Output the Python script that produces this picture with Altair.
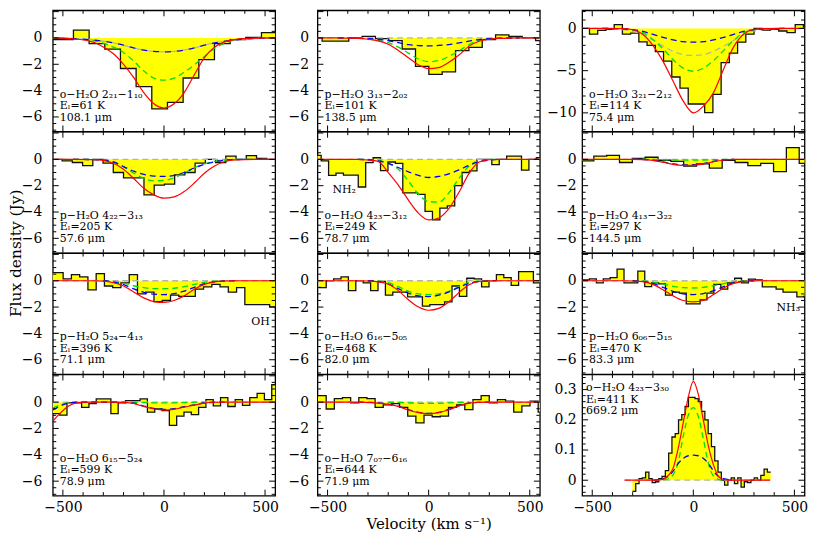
import altair as alt
import numpy as np
import pandas as pd

FONT = "DejaVu Serif"
W = 223.5
H = 121.75

# velocity grids (km/s) on which the model curves were read
CV = [-550, -450, -350, -300, -250, -200, -150, -100, -50, 0, 50, 100, 150, 200, 250, 300, 350, 450, 550]
CV10 = [-550, -520, -490, -460, -430, -400, -350, -300, -250, -200, -150, -100, -50, 0, 50, 100, 150, 200, 250, 300, 350, 450, 550]
CV12 = [-340, -200, -150, -125, -100, -75, -50, -25, 0, 25, 50, 75, 100, 125, 150, 200, 380]
Z19 = [0] * 19

# ---------------- panel 1 : o-H2O 2_21-1_10 ----------------
P1_CH = (-564, 77.5)   # first channel centre, channel width (km/s)
P1_OBS = [-0.12, -0.12, 0.6, -0.43, -0.85, -2.32, -3.7, -5.39, -4.9, -3.04, -1.64, -0.43, -0.12, 0.05, 0.41]
P1_RED = [0, -0.07, -0.32, -0.68, -1.2, -2.0, -3.0, -4.15, -5.0, -5.32, -5.0, -4.15, -2.8, -1.5, -0.7, -0.3, -0.12, -0.02, 0]
P1_GREEN = [0, -0.05, -0.2, -0.4, -0.7, -1.1, -1.75, -2.5, -3.05, -3.21, -3.05, -2.6, -2.05, -1.4, -0.8, -0.4, -0.15, -0.03, 0]
P1_BLUE = [0, -0.05, -0.15, -0.25, -0.38, -0.55, -0.75, -0.92, -1.02, -1.05, -1.02, -0.92, -0.75, -0.55, -0.38, -0.25, -0.15, -0.05, 0]
P1_GREY = [0, -0.05, -0.15, -0.25, -0.38, -0.55, -0.75, -0.92, -1.02, -1.05, -1.02, -0.92, -0.75, -0.55, -0.38, -0.25, -0.15, -0.05, 0]
P1_TXT = ["o\u2212H\u2082O 2\u2082\u2081\u22121\u2081\u2080", "E\u2097=61 K", "108.1 \u03bcm"]

# ---------------- panel 2 : p-H2O 3_13-2_02 ----------------
P2_CH = (-560, 66)
P2_OBS = [0, -0.24, -0.24, 0, 0.12, -0.05, -0.2, -0.84, -2.16, -2.76, -2.57, -0.96, -0.72, -0.12, 0.24, 0.12, 0, -0.2]
P2_RED = [0, 0, -0.03, -0.1, -0.22, -0.48, -0.95, -1.5, -2.05, -2.33, -2.25, -1.85, -1.3, -0.62, -0.25, -0.1, -0.03, 0, 0]
P2_GREEN = [0, 0, -0.02, -0.08, -0.18, -0.36, -0.7, -1.15, -1.6, -1.8, -1.72, -1.4, -0.98, -0.5, -0.18, -0.07, -0.02, 0, 0]
P2_BLUE = [0, 0, -0.02, -0.05, -0.1, -0.2, -0.35, -0.5, -0.58, -0.6, -0.57, -0.5, -0.38, -0.24, -0.12, -0.05, -0.02, 0, 0]
P2_TXT = ["p\u2212H\u2082O 3\u2081\u2083\u22122\u2080\u2082", "E\u2097=101 K", "138.5 \u03bcm"]

# ---------------- panel 3 : o-H2O 3_21-2_12 ----------------
P3_CH = (-534, 40.7)
P3_OBS = [0, -0.68, -0.23, -0.1, 0.45, -0.68, -0.56, -1.6, -2.0, -2.74, -3.87, -5.75, -7.07, -8.95, -8.95, -9.96,
          -7.8, -4.06, -2.93, -1.62, -0.68, 0, -0.2, -0.1, -0.3, -0.5, 0.45, 0]
P3_RED = [0, 0, -0.03, -0.15, -0.68, -2.0, -3.9, -6.25, -8.6, -10.0, -9.2, -7.6, -4.8, -2.15, -0.65, -0.12, -0.02, 0, 0]
P3_GREEN = [0, 0, -0.05, -0.2, -0.5, -1.3, -2.4, -3.7, -4.7, -5.07, -4.7, -3.8, -2.6, -1.4, -0.5, -0.15, -0.03, 0, 0]
P3_BLUE = [0, 0, -0.05, -0.15, -0.35, -0.7, -1.05, -1.35, -1.57, -1.63, -1.57, -1.35, -1.05, -0.7, -0.35, -0.15, -0.05, 0, 0]
P3_GREY = [0, 0, -0.15, -0.35, -0.7, -1.4, -2.1, -2.7, -3.1, -3.2, -3.1, -2.7, -2.1, -1.4, -0.7, -0.3, -0.1, 0, 0]
P3_TXT = ["o\u2212H\u2082O 3\u2082\u2081\u22122\u2081\u2082", "E\u2097=114 K", "75.4 \u03bcm"]

# ---------------- panel 4 : p-H2O 4_22-3_13 ----------------
P4_CH = (-529, 50.6)
P4_OBS = [0, -0.12, -0.24, -0.47, 0, -0.28, -1.0, -1.41, -1.41, -2.7, -1.95, -1.88, -1.18, -1.0, -0.28, 0, -0.24, 0.24, 0, 0.28, 0.07, 0]
P4_RED = [0, 0, -0.02, -0.08, -0.3, -0.75, -1.45, -2.2, -2.7, -2.95, -2.85, -2.45, -1.8, -1.05, -0.5, -0.18, -0.05, 0, 0]
P4_GREEN = [0, 0, -0.02, -0.05, -0.2, -0.55, -1.05, -1.45, -1.63, -1.6, -1.4, -1.05, -0.65, -0.35, -0.15, -0.05, -0.02, 0, 0]
P4_BLUE = [0, 0, -0.02, -0.06, -0.2, -0.55, -0.9, -1.15, -1.27, -1.3, -1.22, -1.0, -0.65, -0.38, -0.18, -0.06, -0.02, 0, 0]
P4_TXT = ["p\u2212H\u2082O 4\u2082\u2082\u22123\u2081\u2083", "E\u2097=205 K", "57.6 \u03bcm"]

# ---------------- panel 5 : o-H2O 4_23-3_12 ----------------
P5_CH = (-550, 36.7)
P5_OBS = [0.3, -0.12, -1.22, -1.05, -1.2, -1.2, -2.1, -0.25, 0.12, -0.85, -0.2, -0.3, -2.55, -2.55, -2.66, -3.95,
          -4.6, -3.7, -3.53, -2.0, -1.0, -0.87, 0, 0, -0.4, 0, 0.24, 0.24, -0.82, 0, 0.12]
P5_RED = [0, 0, 0, -0.05, -0.15, -1.0, -1.95, -3.1, -4.1, -4.6, -4.45, -3.75, -2.5, -1.06, -0.2, -0.03, 0, 0, 0]
P5_GREEN = [0, 0, 0, -0.02, -0.08, -0.3, -0.75, -1.65, -2.65, -3.2, -3.25, -2.55, -1.45, -0.5, -0.1, -0.02, 0, 0, 0]
P5_BLUE = [0, 0, 0, -0.03, -0.12, -0.3, -0.62, -0.95, -1.22, -1.38, -1.3, -1.1, -0.8, -0.45, -0.18, -0.05, 0, 0, 0]
P5_TXT = ["o\u2212H\u2082O 4\u2082\u2083\u22123\u2081\u2082", "E\u2097=249 K", "78.7 \u03bcm"]

# ---------------- panel 6 : p-H2O 4_13-3_22 ----------------
P6_CH = (-524, 63.5)
P6_OBS = [-0.12, 0.24, 0.3, -0.24, 0.07, 0.16, -0.07, -0.16, -0.52, -0.35, -0.66, -0.07, -0.24, -0.47, -0.3, -0.94, 0.89, -0.3]
P6_RED = [0, 0, 0, 0, -0.02, -0.08, -0.22, -0.38, -0.46, -0.45, -0.35, -0.18, -0.05, 0, 0, 0, 0, 0, 0]
P6_GREEN = [0, 0, 0, 0, 0, -0.01, -0.03, -0.05, -0.06, -0.06, -0.05, -0.03, -0.01, 0, 0, 0, 0, 0, 0]
P6_BLUE = [0, 0, 0, 0, -0.02, -0.07, -0.2, -0.35, -0.42, -0.41, -0.32, -0.16, -0.04, 0, 0, 0, 0, 0, 0]
P6_TXT = ["p\u2212H\u2082O 4\u2081\u2083\u22123\u2082\u2082", "E\u2097=297 K", "144.5 \u03bcm"]

# ---------------- panel 7 : p-H2O 5_24-4_13 ----------------
P7_CH = (-560, 40.85)
P7_OBS = [0.61, 0.61, 0.14, 0.47, 0.3, -0.7, 0.54, -0.4, -0.52, -0.16, 0.47, -0.99, -0.87, -1.58, -1.5, -1.1,
          -1.18, -1.18, -0.64, -0.47, -0.28, -0.47, -0.87, -0.52, -1.81, -1.81, -1.81, -1.98]
P7_RED = [0, 0, 0, -0.03, -0.15, -0.4, -0.85, -1.3, -1.58, -1.65, -1.5, -1.15, -0.65, -0.28, -0.08, -0.02, 0, 0, 0]
P7_GREEN = [0, 0, 0, 0, -0.05, -0.18, -0.38, -0.52, -0.6, -0.6, -0.57, -0.45, -0.28, -0.12, -0.04, 0, 0, 0, 0]
P7_BLUE = [0, 0, 0, 0, -0.1, -0.3, -0.62, -0.88, -1.02, -1.05, -0.98, -0.78, -0.5, -0.22, -0.08, -0.02, 0, 0, 0]
P7_TXT = ["p\u2212H\u2082O 5\u2082\u2084\u22124\u2081\u2083", "E\u2097=396 K", "71.1 \u03bcm"]

# ---------------- panel 8 : o-H2O 6_16-5_05 ----------------
P8_CH = (-525, 36.6)
P8_OBS = [-0.52, 0, 0.14, 0.3, -0.75, 0, -0.16, -0.75, -0.05, -1.1, -0.87, -0.87, -1.22, -1.22, -1.93, -1.81,
          -1.81, -1.6, -0.4, -1.18, 0.19, 0.14, -0.47, 0, 0.47, 0.24, -0.35, 0.7, 0.7, -0.16]
P8_RED = [0, 0, 0, -0.02, -0.08, -0.25, -0.75, -1.45, -2.0, -2.24, -2.1, -1.6, -0.9, -0.3, -0.06, 0, 0, 0, 0]
P8_GREEN = [0, 0, 0, 0, -0.03, -0.15, -0.45, -0.8, -1.0, -1.05, -1.0, -0.8, -0.45, -0.15, -0.03, 0, 0, 0, 0]
P8_BLUE = [0, 0, 0, 0, -0.05, -0.25, -0.6, -0.95, -1.15, -1.2, -1.1, -0.85, -0.5, -0.2, -0.05, 0, 0, 0, 0]
P8_TXT = ["o\u2212H\u2082O 6\u2081\u2086\u22125\u2080\u2085", "E\u2097=468 K", "82.0 \u03bcm"]

# ---------------- panel 9 : p-H2O 6_06-5_15 ----------------
P9_CH = (-531, 34.2)
P9_OBS = [0.07, 0.14, -0.16, 0.14, 0.24, 0.89, -0.16, -0.16, 0.73, -0.45, -0.16, -0.24, -1.1, -0.87, -0.94, -1.76,
          -1.76, -1.46, -0.94, -0.28, -0.64, -0.16, 0.19, -0.16, 0.12, 0.07, -0.47, -0.47, -0.64, -0.87, -0.87, -1.22, -1.18]
P9_RED = [0, 0, 0, -0.02, -0.07, -0.28, -0.68, -1.15, -1.5, -1.6, -1.5, -1.05, -0.55, -0.2, -0.05, 0, 0, 0, 0]
P9_GREEN = [0, 0, 0, 0, -0.02, -0.1, -0.25, -0.42, -0.53, -0.55, -0.5, -0.38, -0.22, -0.08, -0.02, 0, 0, 0, 0]
P9_BLUE = [0, 0, 0, 0, -0.05, -0.2, -0.5, -0.8, -1.0, -1.05, -0.97, -0.75, -0.45, -0.15, -0.03, 0, 0, 0, 0]
P9_TXT = ["p\u2212H\u2082O 6\u2080\u2086\u22125\u2081\u2085", "E\u2097=470 K", "83.3 \u03bcm"]

# ---------------- panel 10 : o-H2O 6_15-5_24 ----------------
P10_CH = (-534, 36.17)
P10_OBS = [-0.87, -0.99, -0.05, -0.05, -0.4, -0.12, 0.24, 0.24, -0.87, -0.05, 0.12, 0.12, 0.24, -0.76, -0.52, -0.64,
           -1.77, -1.06, -0.76, -0.95, -0.4, 0.19, -0.28, 0.35, -0.33, 0.19, -0.24, 0.35, 0.66, 0.19, 1.32]
P10_RED = [-1.45, -0.95, -0.5, -0.2, -0.05, 0, 0, 0, 0, -0.02, -0.1, -0.33, -0.52, -0.6, -0.55, -0.38, -0.23, -0.07, -0.01, 0, 0, 0, 0]
P10_GREEN = [-0.45, -0.25, -0.1, -0.02, 0, 0, 0, 0, 0, 0, -0.01, -0.03, -0.05, -0.05, -0.05, -0.03, -0.01, 0, 0, 0, 0, 0, 0]
P10_BLUE = [-0.6, -0.35, -0.15, -0.04, 0, 0, 0, 0, 0, -0.02, -0.08, -0.3, -0.48, -0.55, -0.5, -0.35, -0.2, -0.06, -0.01, 0, 0, 0, 0]
P10_GREY = [0] * 23
P10_TXT = ["o\u2212H\u2082O 6\u2081\u2085\u22125\u2082\u2084", "E\u2097=599 K", "78.9 \u03bcm"]

# ---------------- panel 11 : o-H2O 7_07-6_16 ----------------
P11_CH = (-527, 40.33)
P11_OBS = [0.5, -0.52, 0.26, 0.35, -0.05, 0.35, 0.26, -0.4, -0.21, -0.12, -0.4, -1.06, -1.58, -0.99, -1.11, -1.06,
           -0.4, -0.21, -0.57, 0.19, 0.5, -0.05, 0.19, 0.07, -0.76, -0.28, 0.07, -0.76]
P11_RED = [0, 0, 0, -0.03, -0.07, -0.17, -0.33, -0.6, -0.8, -0.88, -0.8, -0.58, -0.28, -0.08, -0.02, 0, 0, 0, 0]
P11_GREEN = [0, 0, 0, 0, 0, 0, -0.02, -0.06, -0.09, -0.1, -0.09, -0.06, -0.02, 0, 0, 0, 0, 0, 0]
P11_BLUE = [0, 0, 0, -0.02, -0.06, -0.15, -0.3, -0.57, -0.77, -0.85, -0.77, -0.55, -0.26, -0.07, -0.02, 0, 0, 0, 0]
P11_TXT = ["o\u2212H\u2082O 7\u2080\u2087\u22126\u2081\u2086", "E\u2097=644 K", "71.9 \u03bcm"]

# ---------------- panel 12 : o-H2O 4_23-3_30 (emission) ----------------
P12_CH = (-293, 16.28)
P12_OBS = [-0.037, -0.011, 0.005, 0.008, 0.027, 0.005, -0.008, -0.005, 0.005, 0.013, 0.032, 0.09, 0.143, 0.154,
           0.2, 0.217, 0.244, 0.274, 0.274, 0.27, 0.26, 0.228, 0.2, 0.154, 0.111, 0.064, 0.027, 0.0, -0.016, 0,
           0.008, -0.011, 0.008, -0.023, -0.005, -0.008, 0, 0.008, 0, 0.016, 0.037, 0.027]
P12_RED = [0, 0, 0.003, 0.015, 0.04, 0.105, 0.19, 0.275, 0.327, 0.283, 0.197, 0.112, 0.05, 0.012, 0.002, 0, 0]
P12_GREEN = [0, 0, 0, 0.005, 0.018, 0.06, 0.145, 0.215, 0.24, 0.21, 0.135, 0.055, 0.013, 0.003, 0, 0, 0]
P12_BLUE = [0, 0, 0.005, 0.012, 0.03, 0.055, 0.072, 0.081, 0.083, 0.081, 0.072, 0.055, 0.03, 0.012, 0.005, 0, 0]
P12_GREY = [0] * 17
P12_TXT = ["o\u2212H\u2082O 4\u2082\u2083\u22123\u2083\u2080", "E\u2097=411 K", "669.2 \u03bcm"]

STD_DOM = [-7.1, 2.1]
STD_LAB = [-6, -4, -2, 0]
P3_DOM = [-12.2, 2.15]
P3_LAB = [-10, -5, 0]
P12_DOM = [-0.051, 0.35]
P12_LAB = [0, 0.1, 0.2, 0.3]

PANELS = [
    dict(ch=P1_CH, obs=P1_OBS, cv=CV, red=P1_RED, green=P1_GREEN, blue=P1_BLUE, grey=P1_GREY, txt=P1_TXT, alt_dash=True),
    dict(ch=P2_CH, obs=P2_OBS, cv=CV, red=P2_RED, green=P2_GREEN, blue=P2_BLUE, grey=Z19, txt=P2_TXT),
    dict(ch=P3_CH, obs=P3_OBS, cv=CV, red=P3_RED, green=P3_GREEN, blue=P3_BLUE, grey=P3_GREY, txt=P3_TXT,
         dom=P3_DOM, lab=P3_LAB, maj=5, mnr=1),
    dict(ch=P4_CH, obs=P4_OBS, cv=CV, red=P4_RED, green=P4_GREEN, blue=P4_BLUE, grey=Z19, txt=P4_TXT),
    dict(ch=P5_CH, obs=P5_OBS, cv=CV, red=P5_RED, green=P5_GREEN, blue=P5_BLUE, grey=Z19, txt=P5_TXT,
         extra=("NH\u2082", 15, 59, "left")),
    dict(ch=P6_CH, obs=P6_OBS, cv=CV, red=P6_RED, green=P6_GREEN, blue=P6_BLUE, grey=Z19, txt=P6_TXT),
    dict(ch=P7_CH, obs=P7_OBS, cv=CV, red=P7_RED, green=P7_GREEN, blue=P7_BLUE, grey=Z19, txt=P7_TXT,
         extra=("OH", 218, 69, "right")),
    dict(ch=P8_CH, obs=P8_OBS, cv=CV, red=P8_RED, green=P8_GREEN, blue=P8_BLUE, grey=Z19, txt=P8_TXT),
    dict(ch=P9_CH, obs=P9_OBS, cv=CV, red=P9_RED, green=P9_GREEN, blue=P9_BLUE, grey=Z19, txt=P9_TXT,
         extra=("NH\u2083", 219, 55, "right")),
    dict(ch=P10_CH, obs=P10_OBS, cv=CV10, red=P10_RED, green=P10_GREEN, blue=P10_BLUE, grey=P10_GREY, txt=P10_TXT),
    dict(ch=P11_CH, obs=P11_OBS, cv=CV, red=P11_RED, green=P11_GREEN, blue=P11_BLUE, grey=Z19, txt=P11_TXT),
    dict(ch=P12_CH, obs=P12_OBS, cv=CV12, red=P12_RED, green=P12_GREEN, blue=P12_BLUE, grey=P12_GREY, txt=P12_TXT,
         dom=P12_DOM, lab=P12_LAB, maj=0.1, mnr=0.02, top_text=True),
]

X_MAJOR = [-500, 0, 500]
X_MINOR = [-400, -300, -200, -100, 100, 200, 300, 400]


def trim(v, f):
    nz = [i for i, x in enumerate(f) if abs(x) > 1e-9]
    if not nz:
        return v, f
    a = max(nz[0] - 1, 0)
    b = min(nz[-1] + 1, len(f) - 1)
    return v[a:b + 1], f[a:b + 1]


def build(i, p):
    row, col = divmod(i, 3)
    dom = p.get("dom", STD_DOM)
    lab = p.get("lab", STD_LAB)
    maj = p.get("maj", 2)
    mnr = p.get("mnr", 0.5)

    xs = alt.Scale(domain=[-550, 550], nice=False, zero=False)
    ys = alt.Scale(domain=dom, nice=False, zero=False)

    if row == 3:
        xkw = dict(values=X_MAJOR, format="~f", ticks=False, domain=False, grid=False, labelFont=FONT,
                   labelFontSize=14, labelColor="black", labelPadding=5, labelFlush=False)
        if col == 1:
            xkw.update(title="Velocity (km s\u207b\u00b9)", titleFont=FONT, titleFontSize=15,
                       titleFontWeight="normal", titleColor="black", titlePadding=2)
        else:
            xkw["title"] = None
        xaxis = alt.Axis(**xkw)
    else:
        xaxis = None

    ykw = dict(values=lab, format="~f", ticks=False, domain=False, grid=False, labelFont=FONT,
               labelFontSize=14, labelColor="black", labelPadding=[11, 9, 6][col])
    if i == 3:
        ykw.update(title="Flux density (Jy)", titleFont=FONT, titleFontSize=15.5, titleFontWeight="normal",
                   titleColor="black", titleAngle=270, titleX=-37, titleY=H, titleAlign="center",
                   titleBaseline="middle")
    else:
        ykw["title"] = None
    yaxis = alt.Axis(**ykw)

    X = alt.X("v:Q", scale=xs, axis=xaxis)
    Y = alt.Y("f:Q", scale=ys, axis=yaxis)

    start, wd = p["ch"]
    obs = list(p["obs"])
    centers = start + wd * np.arange(len(obs))
    edges = np.append(centers - wd / 2.0, centers[-1] + wd / 2.0)
    obs_df = pd.DataFrame({"v": edges, "f": obs + [obs[-1]]})

    layers = [
        alt.Chart(obs_df).mark_area(interpolate="step-after", color="#FFFF00", opacity=1, clip=True)
        .encode(x=X, y=Y, y2=alt.datum(0)),
        alt.Chart(obs_df).mark_line(interpolate="step-after", color="#111111", strokeWidth=1.3, clip=True)
        .encode(x=X, y=Y),
    ]

    def curve(vals, color, dash=None, width=1.3, offset=None, do_trim=False):
        v, f = list(p["cv"]), list(vals)
        if do_trim:
            v, f = trim(v, f)
        kw = dict(color=color, strokeWidth=width, clip=True, interpolate="monotone")
        if dash:
            kw["strokeDash"] = dash
        if offset:
            kw["strokeDashOffset"] = offset
        return alt.Chart(pd.DataFrame({"v": v, "f": f})).mark_line(**kw).encode(x=X, y=Y)

    if p.get("alt_dash"):
        layers.append(curve(p["grey"], "#b4b4b4", dash=[6, 6]))
    else:
        layers.append(curve(p["grey"], "#b4b4b4", dash=[6, 4]))
    layers.append(curve(p["green"], "#00e000", dash=[6, 4], do_trim=True))
    if p.get("alt_dash"):
        layers.append(curve(p["blue"], "#0000ff", dash=[6, 6], offset=6, do_trim=True))
    else:
        layers.append(curve(p["blue"], "#0000ff", dash=[6, 4], do_trim=True))
    layers.append(curve(p["red"], "#ff0000", width=1.2))

    def label(text, x, y, align="left"):
        return (alt.Chart(pd.DataFrame({"t": [text]}))
                .mark_text(align=align, baseline="middle", font=FONT, fontSize=11, color="black")
                .encode(x=alt.value(x), y=alt.value(y), text="t:N"))

    if p.get("top_text"):
        ys_txt = [14, 25.5, 37]
        xt = 4
    else:
        ys_txt = [H - 37, H - 25.5, H - 14]
        xt = 7
    for t, yy in zip(p["txt"], ys_txt):
        layers.append(label(t, xt, yy))
    if "extra" in p:
        t, ex, ey, al = p["extra"]
        layers.append(label(t, ex, ey, al))

    # inward ticks on all four sides
    def xticks(vals, L):
        df = pd.DataFrame({"v": vals})
        return [
            alt.Chart(df).mark_rule(color="black", strokeWidth=1, clip=True)
            .encode(x=X, y=alt.value(H), y2=alt.value(H - L)),
            alt.Chart(df).mark_rule(color="black", strokeWidth=1, clip=True)
            .encode(x=X, y=alt.value(0), y2=alt.value(L)),
        ]

    def yticks(vals, L):
        df = pd.DataFrame({"f": vals})
        return [
            alt.Chart(df).mark_rule(color="black", strokeWidth=1, clip=True)
            .encode(y=Y, x=alt.value(0), x2=alt.value(L)),
            alt.Chart(df).mark_rule(color="black", strokeWidth=1, clip=True)
            .encode(y=Y, x=alt.value(W), x2=alt.value(W - L)),
        ]

    k0 = int(np.ceil(dom[0] / mnr - 1e-9))
    k1 = int(np.floor(dom[1] / mnr + 1e-9))
    all_y = [round(k * mnr, 6) for k in range(k0, k1 + 1)]
    ratio = int(round(maj / mnr))
    y_major = [round(k * mnr, 6) for k in range(k0, k1 + 1) if k % ratio == 0]
    y_minor = [v for v in all_y if v not in y_major]

    layers += xticks(X_MAJOR, 6) + xticks(X_MINOR, 3.5)
    layers += yticks(y_major, 6) + yticks(y_minor, 3.5)

    return alt.layer(*layers).properties(width=W, height=H)


panels = [build(i, p) for i, p in enumerate(PANELS)]

chart = (
    alt.concat(*panels, columns=3, spacing={"row": 0, "column": 42}, bounds="flush")
    .properties(padding={"left": 0, "top": 0, "right": 0, "bottom": 0})
    .configure_view(stroke="black", strokeWidth=1.3)
)

chart.save("out.html", embed_options={"renderer": "svg", "actions": False})
